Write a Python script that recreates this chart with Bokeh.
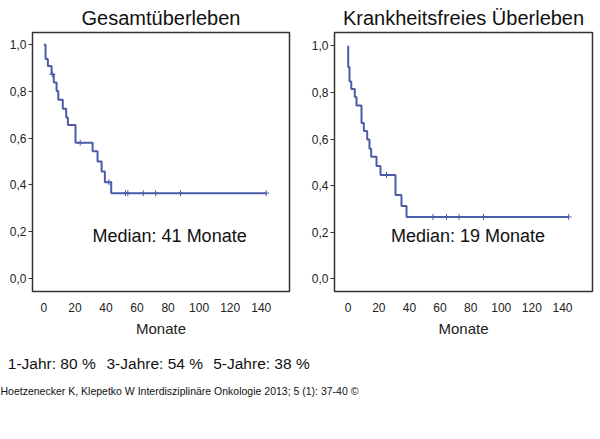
import numpy as np
from bokeh.plotting import figure
from bokeh.layouts import column, row
from bokeh.models import Range1d, FixedTicker
from bokeh.core.properties import value
from bokeh.embed import file_html
from bokeh.resources import INLINE

# ---------------- data ----------------
os_times = [0, 1.1, 2.6, 5.0, 6.4, 8.2, 9.3, 12.2, 14.4, 15.5, 20.4, 31.4, 34.6, 37.2, 39.3, 43.4, 143.2]
os_surv = [1.0, 0.938, 0.909, 0.873, 0.838, 0.802, 0.764, 0.726, 0.688, 0.656, 0.580, 0.543, 0.500, 0.457, 0.411, 0.364, 0.364]
os_censor = [5.5, 23.4, 41.9, 52.6, 54.1, 64.0, 72.0, 88.0, 143.2]

dfs_times = [0, 0, 0.85, 2.0, 4.3, 5.4, 8.7, 10.2, 12.4, 13.9, 15.0, 18.5, 21.1, 30.9, 34.8, 38.1, 144.0]
dfs_surv = [1.0, 0.909, 0.847, 0.815, 0.780, 0.744, 0.669, 0.634, 0.598, 0.558, 0.524, 0.484, 0.446, 0.360, 0.313, 0.266, 0.266]
dfs_censor = [25.0, 55.4, 64.2, 72.4, 88.4, 144.0]

titles = ["Gesamtüberleben", "Krankheitsfreies Überleben"]
medians = ["Median: 41 Monate", "Median: 19 Monate"]
x_ticks = [0, 20, 40, 60, 80, 100, 120, 140]
y_ticks = [0.0, 0.2, 0.4, 0.6, 0.8, 1.0]
y_tick_labels = ["0,0", "0,2", "0,4", "0,6", "0,8", "1,0"]
x_label = "Monate"
summary = ["1-Jahr: 80 %", "3-Jahre: 54 %", "5-Jahre: 38 %"]
citation = "Hoetzenecker K, Klepetko W Interdisziplinäre Onkologie 2013; 5 (1): 37-40 ©"

LINE = "#4a5ca8"
FONT = "Liberation Sans"


def surv_at(times, surv, t):
    idx = np.searchsorted(np.array(times), t, side="right") - 1
    return [surv[i] for i in idx]


def panel(title, times, surv, cens, xr, yr, med_text, med_x, bl, fw, br):
    p = figure(width=bl + fw + br, height=31 + 260 + 50,
               x_range=Range1d(*xr), y_range=Range1d(*yr),
               min_border_left=bl, min_border_right=br,
               min_border_top=31, min_border_bottom=50,
               output_backend="svg", toolbar_location=None)
    p.title.text = title
    p.title.align = "center"
    p.title.text_font = FONT
    p.title.text_font_size = "20px"
    p.title.text_font_style = "normal"
    p.title.text_color = "#111111"
    p.title.standoff = 8
    p.grid.visible = False
    p.outline_line_color = "#333333"
    p.outline_line_width = 1.5

    p.xaxis.ticker = FixedTicker(ticks=x_ticks)
    p.xaxis.axis_line_color = None
    p.xaxis.major_tick_line_color = None
    p.xaxis.minor_tick_line_color = None
    p.xaxis.major_label_standoff = 5
    p.xaxis.major_label_text_font = FONT
    p.xaxis.major_label_text_font_size = "12px"
    p.xaxis.major_label_text_color = "#222222"
    p.xaxis.axis_label = x_label
    p.xaxis.axis_label_text_font = FONT
    p.xaxis.axis_label_text_font_size = "15px"
    p.xaxis.axis_label_text_font_style = "normal"
    p.xaxis.axis_label_text_color = "#222222"
    p.xaxis.axis_label_standoff = 5

    p.yaxis.ticker = FixedTicker(ticks=y_ticks)
    p.yaxis.major_label_overrides = {t: l for t, l in zip(y_ticks, y_tick_labels)}
    p.yaxis.axis_line_color = None
    p.yaxis.minor_tick_line_color = None
    p.yaxis.major_tick_out = 4
    p.yaxis.major_tick_in = 0
    p.yaxis.major_tick_line_color = "#333333"
    p.yaxis.major_label_standoff = 2
    p.yaxis.major_label_text_font = FONT
    p.yaxis.major_label_text_font_size = "12px"
    p.yaxis.major_label_text_color = "#222222"

    p.step(times, surv, mode="after", line_color=LINE, line_width=2)
    p.scatter(cens, surv_at(times, surv, cens), marker="cross", size=6,
              line_color=LINE, line_width=1)
    p.text([med_x], [0.182], text=[med_text], text_align="center",
           text_baseline="middle", text_font=value(FONT),
           text_font_size="18px", text_color="#111111")
    return p


p1 = panel(titles[0], os_times, os_surv, os_censor, (-7.3, 158.2), (-0.057, 1.052),
           medians[0], 81, 32, 257, 11)
p2 = panel(titles[1], dfs_times, dfs_surv, dfs_censor, (-8.95, 159.6), (-0.054, 1.057),
           medians[1], 78.3, 34, 258, 8)

pt = figure(width=600, height=98, x_range=Range1d(0, 600),
            y_range=Range1d(98, 0), x_axis_type=None, y_axis_type=None,
            min_border=0, output_backend="svg", toolbar_location=None)
pt.grid.visible = False
pt.outline_line_color = None
pt.text([7.3, 106, 212.7], [22.3, 22.3, 22.3], text=summary, text_baseline="middle",
        text_font=value(FONT), text_font_size="15.5px", text_color="#111111")
pt.text([0], [49.7], text=[citation], text_baseline="middle",
        text_font=value(FONT), text_font_size="10.5px",
        text_color="#111111")

layout = column(row(p1, p2), pt)
open("out.html", "w").write(file_html(layout, INLINE))
